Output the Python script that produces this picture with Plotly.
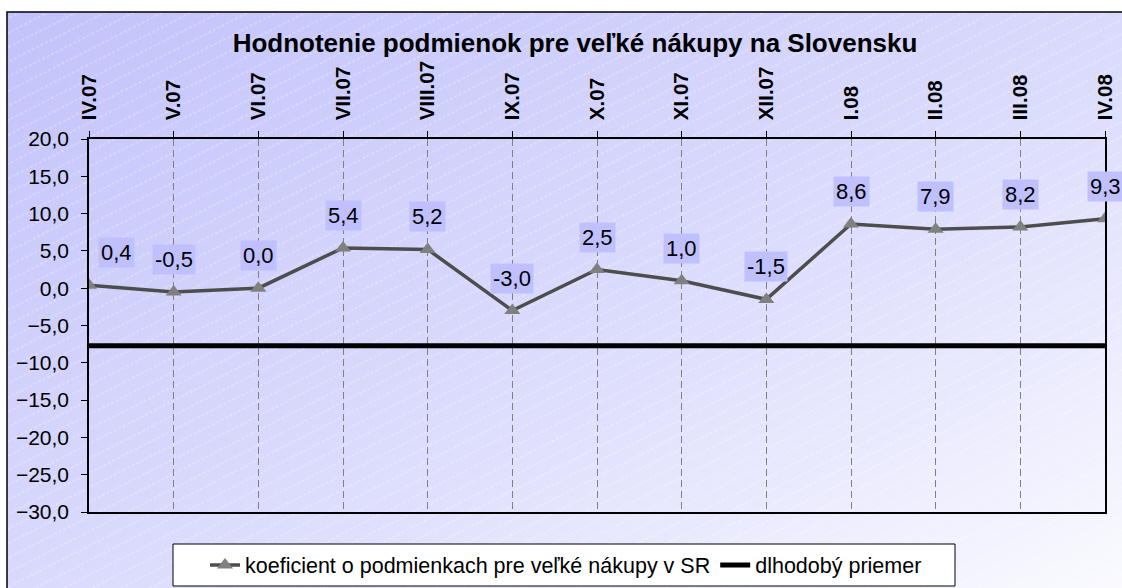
import base64
import plotly.graph_objects as go

# ---- data ----
months = ["IV.07", "V.07", "VI.07", "VII.07", "VIII.07", "IX.07", "X.07",
          "XI.07", "XII.07", "I.08", "II.08", "III.08", "IV.08"]
koeficient = [0.4, -0.5, 0.0, 5.4, 5.2, -3.0, 2.5, 1.0, -1.5, 8.6, 7.9, 8.2, 9.3]
dlhodoby_priemer = [-7.7, -7.7, -7.7, -7.7, -7.7, -7.7, -7.7, -7.7, -7.7, -7.7, -7.7, -7.7, -7.7]
y_ticks = [20, 15, 10, 5, 0, -5, -10, -15, -20, -25, -30]

title_text = "Hodnotenie podmienok pre veľké nákupy na Slovensku"
name_main = "koeficient o podmienkach pre veľké nákupy v SR"
name_avg = "dlhodobý priemer"

W, H = 1122, 588
L, R, T, B = 89, 17, 139, 76
pw, ph = W - L - R, H - T - B


def px_x(p):
    return (p - L) / pw


def px_y(p):
    return (H - B - p) / ph


# background (gradient + faint diagonal hatching)
svg = (
    "<svg xmlns='http://www.w3.org/2000/svg' width='1118' height='580'>"
    "<defs><linearGradient id='g' x1='0' y1='0' x2='1' y2='1'>"
    "<stop offset='0' stop-color='#c2c2fb'/><stop offset='0.55' stop-color='#dcdcfd'/>"
    "<stop offset='1' stop-color='#fafaff'/></linearGradient>"
    "<pattern id='p' width='40' height='13' patternUnits='userSpaceOnUse' patternTransform='rotate(-27)'>"
    "<line x1='0' y1='6' x2='40' y2='6' stroke='#ffffff' stroke-opacity='0.45' stroke-width='1' stroke-dasharray='3,2'/>"
    "</pattern></defs>"
    "<rect width='1118' height='580' fill='url(#g)'/>"
    "<rect width='1118' height='580' fill='url(#p)'/></svg>"
)
bg_src = "data:image/svg+xml;base64," + base64.b64encode(svg.encode()).decode()

fig = go.Figure()
fig.add_trace(go.Scatter(
    x=months, y=koeficient, name=name_main, mode="lines+markers",
    line=dict(color="#4d4d4d", width=3.5),
    marker=dict(symbol="triangle-up", size=14, color="#808080"),
))
fig.add_trace(go.Scatter(
    x=months, y=dlhodoby_priemer, name=name_avg, mode="lines",
    line=dict(color="#000000", width=5),
))

annotations = []
for i, (m, v) in enumerate(zip(months, koeficient)):
    first = i == 0
    annotations.append(dict(
        x=m, y=v, xref="x", yref="y",
        text=f"{v:.1f}".replace(".", ","),
        showarrow=False, xanchor="left" if first else "center", yanchor="bottom",
        xshift=9 if first else 0, yshift=17,
        bgcolor="#c0c0ff", borderpad=2,
        font=dict(family="Liberation Sans, Arial", size=22, color="#000000"),
    ))

fig.update_layout(
    width=W, height=H,
    margin=dict(l=L, r=R, t=T, b=B, autoexpand=False),
    paper_bgcolor="#ffffff",
    plot_bgcolor="rgba(0,0,0,0)",
    separators=", ",
    font=dict(family="Liberation Sans, Arial", color="#000000"),
    title=dict(text=f"<b>{title_text}</b>", x=575 / W, xref="container", xanchor="center",
               y=1 - 43 / H, yref="container", yanchor="middle",
               font=dict(size=26, color="#000000")),
    showlegend=True,
    legend=dict(orientation="h", xref="container", yref="container",
                x=566 / W, xanchor="center", y=1 - 565 / H, yanchor="middle",
                bgcolor="rgba(0,0,0,0)", borderwidth=0,
                font=dict(size=21.5, color="#000000"),
                tracegroupgap=0),
    annotations=annotations,
    images=[dict(source=bg_src, xref="paper", yref="paper",
                 x=px_x(7), y=px_y(12), sizex=px_x(1125) - px_x(7), sizey=px_y(12) - px_y(592),
                 xanchor="left", yanchor="top", sizing="stretch", layer="below")],
    shapes=[
        dict(type="rect", xref="paper", yref="paper",
             x0=px_x(7), x1=px_x(1128), y0=px_y(596), y1=px_y(12),
             line=dict(color="#000000", width=1.5), layer="above"),
        dict(type="rect", xref="paper", yref="paper",
             x0=px_x(173), x1=px_x(955), y0=px_y(586), y1=px_y(544),
             fillcolor="#ffffff", line=dict(color="#000000", width=1), layer="below"),
    ],
)

fig.update_xaxes(
    type="category", categoryorder="array", categoryarray=months,
    range=[0, len(months) - 1], side="top", tickangle=-90,
    showline=True, linecolor="#000000", linewidth=1.5, mirror=True,
    ticks="outside", ticklen=6, tickcolor="#000000", ticklabelstandoff=7,
    showgrid=True, gridcolor="#808080", gridwidth=1, griddash="7px,4px",
    tickfont=dict(size=20.5, family="Liberation Sans, Arial", weight="bold"),
    zeroline=False, fixedrange=True, automargin=False,
)
fig.update_yaxes(
    range=[-30, 20], tickvals=y_ticks, tickformat=".1f",
    showline=True, linecolor="#000000", linewidth=1.5, mirror=True,
    ticks="outside", ticklen=6, tickcolor="#000000", ticklabelstandoff=8,
    showgrid=False, zeroline=False,
    tickfont=dict(size=21, family="Liberation Sans, Arial"),
    fixedrange=True, automargin=False,
)

fig.write_html("out.html", config={"displayModeBar": False},
               post_script="document.body.style.margin='0';document.body.style.overflow='hidden';")
